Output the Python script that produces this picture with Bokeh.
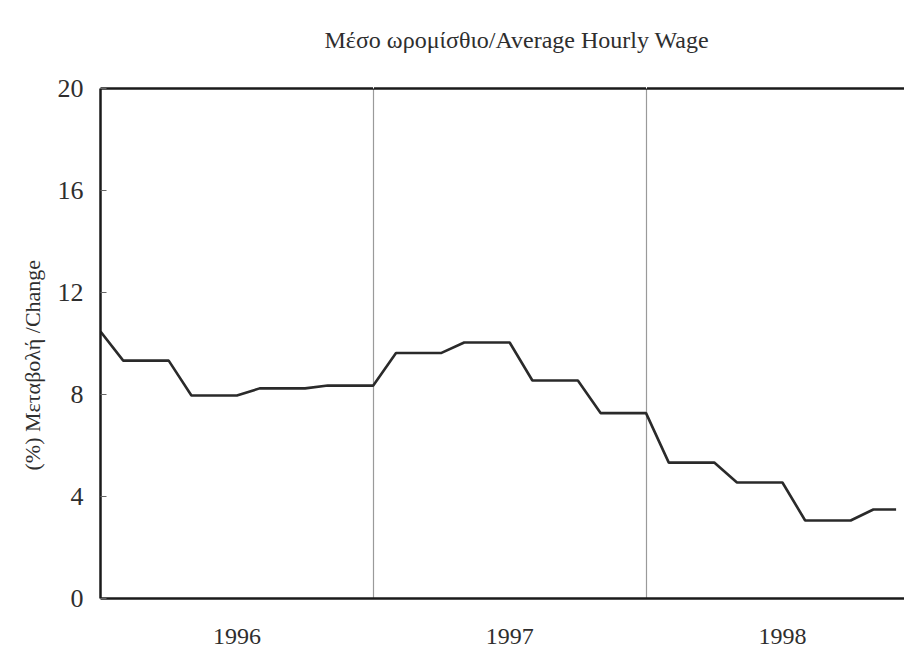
from bokeh.plotting import figure
from bokeh.models import FixedTicker, LinearAxis, Range1d, Title
from bokeh.embed import file_html
from bokeh.resources import INLINE

# Monthly index: 0 = Jan 1996 ... 35 = Dec 1998
months = list(range(36))
wage_change = [10.47,
               9.33, 9.33, 9.33,
               7.96, 7.96, 7.96,
               8.24, 8.24, 8.24,
               8.35, 8.35, 8.35,
               9.63, 9.63, 9.63,
               10.04, 10.04, 10.04,
               8.55, 8.55, 8.55,
               7.27, 7.27, 7.27,
               5.33, 5.33, 5.33,
               4.55, 4.55, 4.55,
               3.06, 3.06, 3.06,
               3.49, 3.49]
years = ["1996", "1997", "1998"]
year_centers = [6, 18, 30]
year_bounds = [12, 24]
y_ticks = [0, 4, 8, 12, 16, 20]

TITLE = "Μέσο ωρομίσθιο/Average Hourly Wage"
YLABEL = "(%) Μεταβολή /Change"
FONT = "Liberation Serif"
INK = "#2e2e2e"

p = figure(width=904, height=650,
           x_range=Range1d(0, 35.37), y_range=Range1d(0, 20),
           output_backend="svg", toolbar_location=None,
           min_border_left=100, min_border_right=0,
           min_border_top=88, min_border_bottom=52)
p.outline_line_color = None
p.background_fill_color = "white"
p.border_fill_color = "white"

# title
p.title.text = TITLE
p.title.text_font = FONT
p.title.text_font_size = "24px"
p.title.text_font_style = "normal"
p.title.text_color = INK
p.title.align = "left"
p.title.offset = 224
p.title.standoff = 0

# y axis
ya = p.yaxis[0]
ya.ticker = FixedTicker(ticks=y_ticks)
ya.major_tick_in = 6
ya.major_tick_out = 0
ya.major_tick_line_color = "#666666"
ya.minor_tick_line_color = None
ya.axis_line_width = 2.5
ya.axis_line_color = "#1a1a1a"
ya.major_label_text_font = FONT
ya.major_label_text_font_size = "26px"
ya.major_label_text_color = INK
ya.major_label_standoff = 17

# y axis title, placed slightly below the frame centre as in the original
ytitle = Title(text=YLABEL, align="left", offset=128, vertical_align="bottom",
               standoff=20, text_font=FONT, text_font_size="22px",
               text_font_style="normal", text_color=INK)
p.add_layout(ytitle, "left")

# x axis (year labels)
xa = p.xaxis[0]
xa.ticker = FixedTicker(ticks=year_centers)
xa.major_label_overrides = {c: y for c, y in zip(year_centers, years)}
xa.major_tick_line_color = None
xa.minor_tick_line_color = None
xa.axis_line_width = 2.5
xa.axis_line_color = "#1a1a1a"
xa.major_label_text_font = FONT
xa.major_label_text_font_size = "24px"
xa.major_label_text_color = INK
xa.major_label_standoff = 24

# top frame line; its (white, unseen) outer ticks leave room below the title
top = LinearAxis(ticker=FixedTicker(ticks=year_bounds), axis_line_width=2.5,
                 axis_line_color="#1a1a1a", major_tick_line_color="white",
                 major_tick_line_width=1, major_tick_out=36, major_tick_in=0,
                 minor_tick_line_color=None,
                 major_label_overrides={b: "" for b in year_bounds},
                 major_label_text_font_size="0px", major_label_standoff=0)
p.add_layout(top, "above")

# grid: only year separators
p.ygrid.visible = False
p.xgrid.ticker = FixedTicker(ticks=year_bounds)
p.xgrid.grid_line_color = "#9a9a9a"
p.xgrid.grid_line_width = 1.2

p.line(months, wage_change, line_width=2.6, line_color="#2a2a2a")

open("out.html", "w").write(file_html(p, INLINE))
